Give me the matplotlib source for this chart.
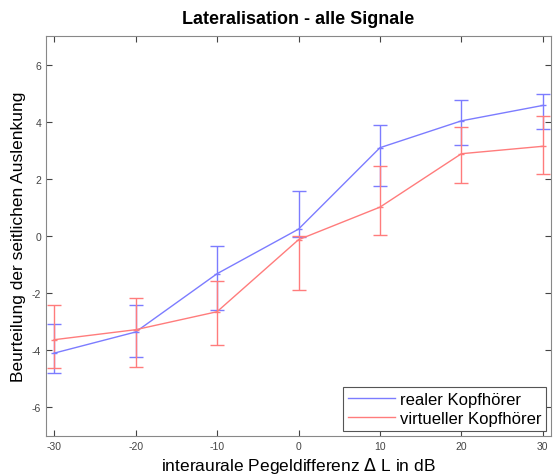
import matplotlib
matplotlib.use("Agg")
import matplotlib.pyplot as plt
import numpy as np

plt.rcParams['font.family'] = ['Liberation Sans', 'DejaVu Sans']
plt.rcParams['axes.unicode_minus'] = False

x = [-30, -20, -10, 0, 10, 20, 30]
real_mean = [-4.1, -3.36, -1.32, 0.24, 3.09, 4.03, 4.57]
real_upper = [-3.07, -2.43, -0.36, 1.58, 3.87, 4.77, 4.97]
real_lower = [-4.8, -4.24, -2.58, -0.03, 1.75, 3.17, 3.76]
virt_mean = [-3.63, -3.28, -2.65, -0.13, 1.01, 2.88, 3.14]
virt_upper = [-2.43, -2.17, -1.59, 0.0, 2.44, 3.8, 4.2]
virt_lower = [-4.61, -4.59, -3.83, -1.9, 0.02, 1.86, 2.16]
xticks = [-30, -20, -10, 0, 10, 20, 30]
yticks = [-6, -4, -2, 0, 2, 4, 6]

fig = plt.figure(figsize=(5.53, 4.77), dpi=100)
ax = fig.add_axes([46/553, 40/477, 505/553, 400/477])

def plot_series(mean, upper, lower, color, label):
    mean = np.array(mean); upper = np.array(upper); lower = np.array(lower)
    yerr = np.vstack([mean - lower, upper - mean])
    ax.errorbar(x, mean, yerr=yerr, color=color, lw=1.0, elinewidth=1.0,
                capsize=5, capthick=1.0, label=label, marker='_', ms=4)

plot_series(real_mean, real_upper, real_lower, '#7c7cff', 'realer Kopfhörer')
plot_series(virt_mean, virt_upper, virt_lower, '#ff7c7c', 'virtueller Kopfhörer')

ax.set_xlim(-31, 31)
ax.set_ylim(-7, 7)
ax.set_xticks(xticks)
ax.set_yticks(yticks)
ax.tick_params(direction='in', top=True, right=True, labelsize=7.5, colors='#444444', length=4)
for s in ax.spines.values():
    s.set_color('#888888')
ax.set_title('Lateralisation - alle Signale', fontsize=13, fontweight='bold', pad=9)
ax.set_xlabel('interaurale Pegeldifferenz $\\Delta$ L in dB', fontsize=12.5, labelpad=3)
ax.set_ylabel('Beurteilung der seitlichen Auslenkung', fontsize=12.5, labelpad=4)

from matplotlib.lines import Line2D
handles = [Line2D([], [], color='#7c7cff', lw=1), Line2D([], [], color='#ff7c7c', lw=1)]
leg = ax.legend(handles, ['realer Kopfhörer', 'virtueller Kopfhörer'], loc='lower right',
                fontsize=12, fancybox=False, framealpha=1, edgecolor='#555555',
                handlelength=2.8, borderpad=0.3, labelspacing=0.25, borderaxespad=0.3,
                handletextpad=0.3)
leg.get_frame().set_linewidth(0.8)

fig.savefig('out.png', dpi=100)
